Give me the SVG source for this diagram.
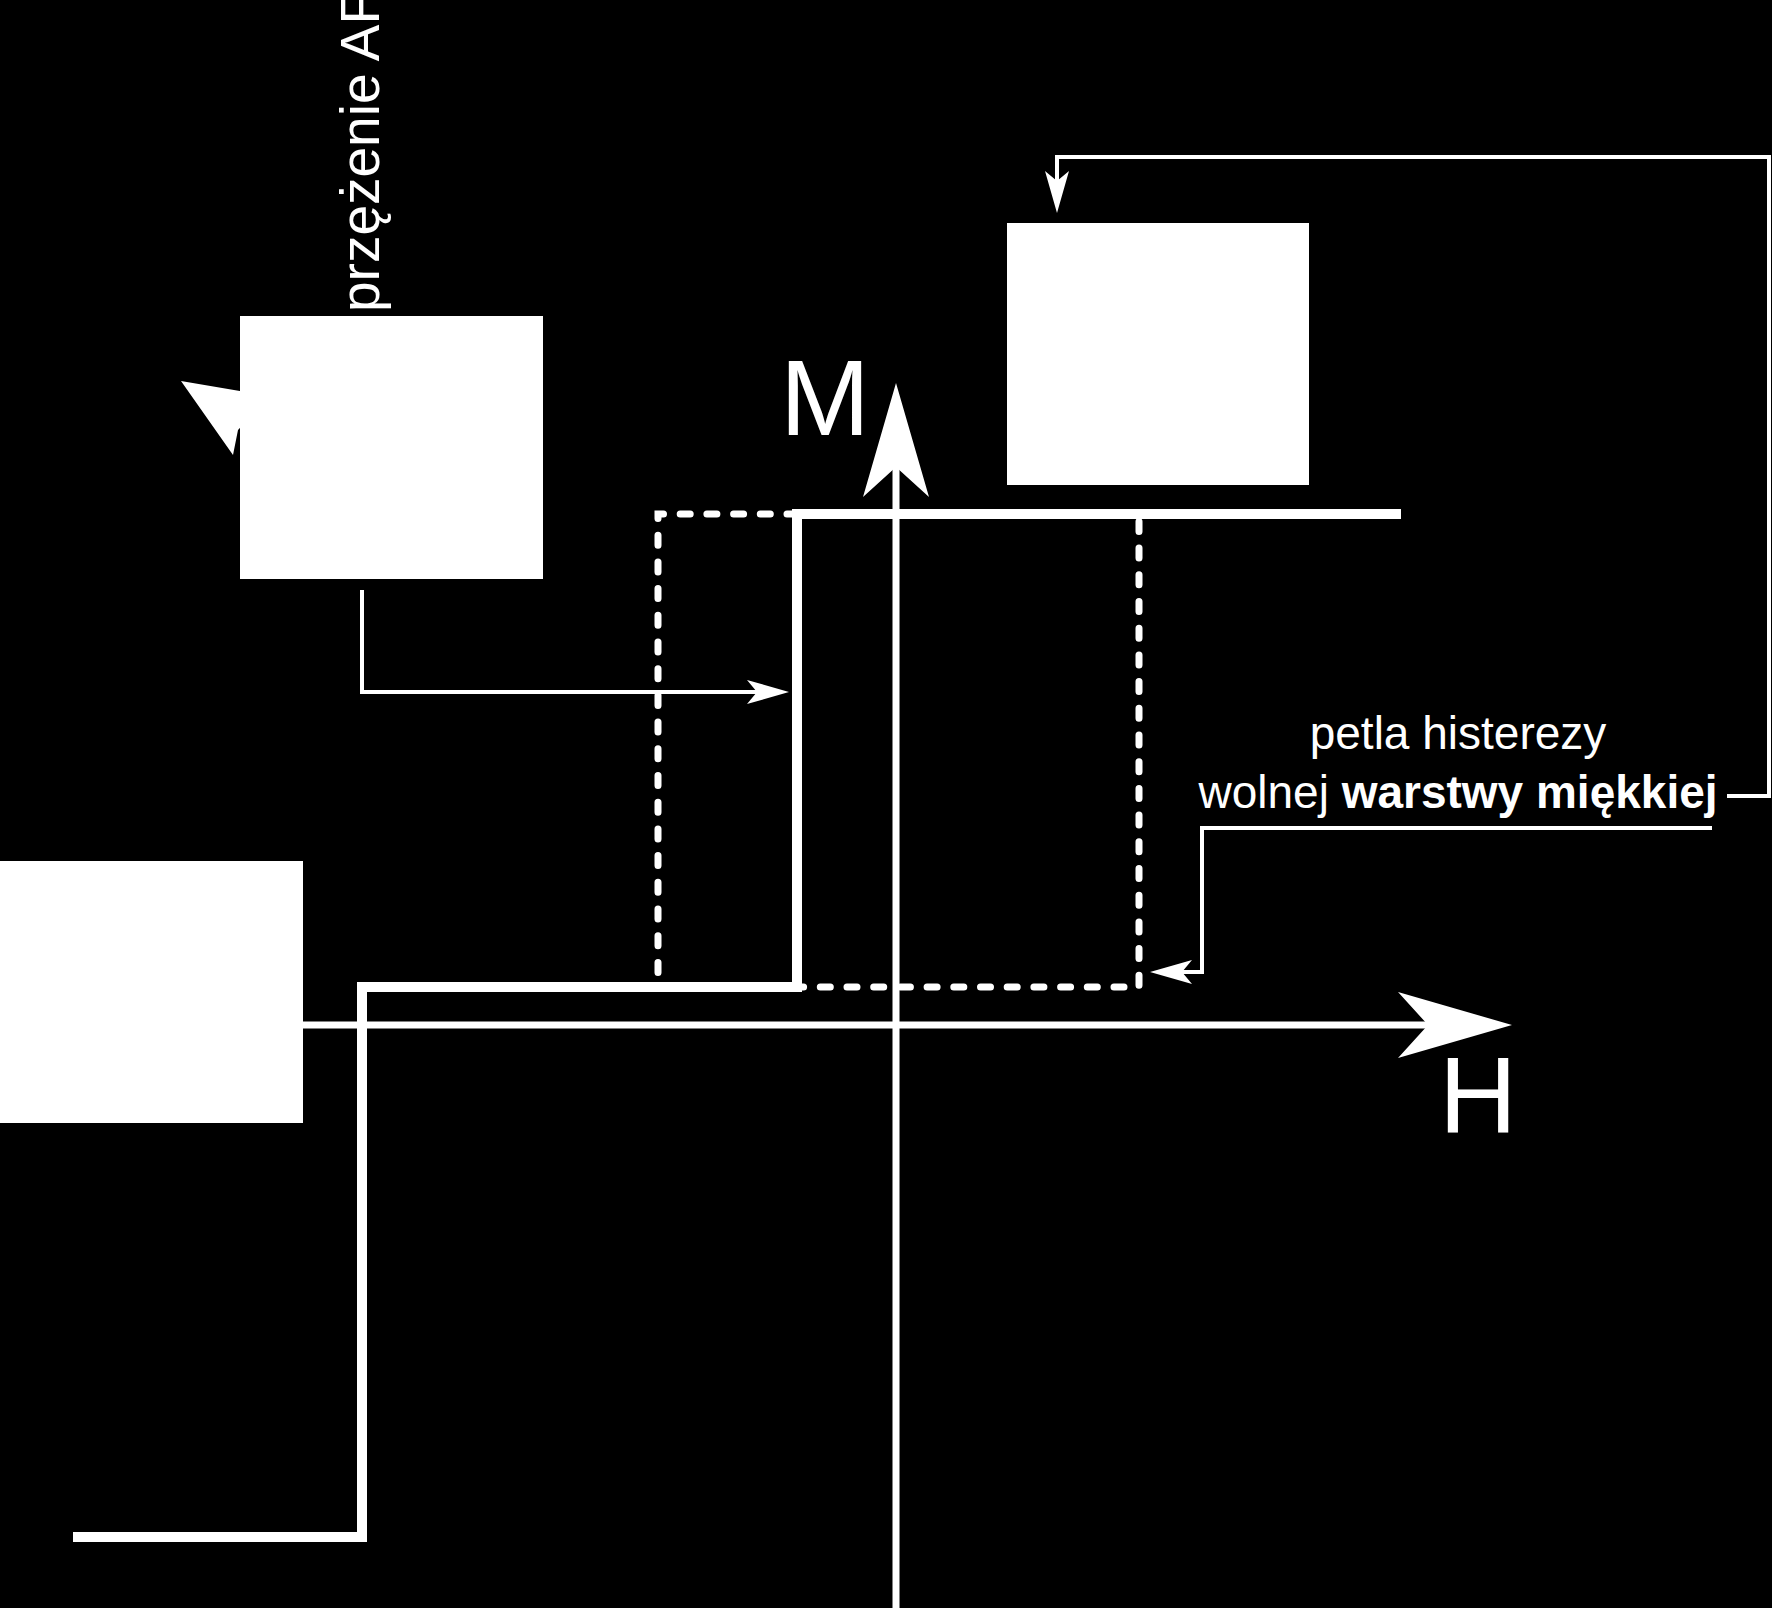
<svg xmlns="http://www.w3.org/2000/svg" width="1772" height="1608" viewBox="0 0 1772 1608">
<style>
.t{font-family:"Liberation Sans",Arial,sans-serif;fill:#fff}
.box{fill:#fff}
.thin{fill:none;stroke:#fff;stroke-width:4;stroke-linejoin:miter}
.axis{fill:none;stroke:#fff;stroke-width:7}
.loop{fill:none;stroke:#fff;stroke-width:10;stroke-linejoin:miter}
.dash{fill:none;stroke:#fff;stroke-width:7;stroke-dasharray:10 16.7;stroke-linecap:round}
</style>
<defs>
<marker id="big" markerUnits="userSpaceOnUse" viewBox="-40 -40 130 80" markerWidth="130" markerHeight="80" refX="0" refY="0" orient="auto" overflow="visible">
<path d="M84,0 L-30,-33 L0,0 L-30,33 Z" fill="#fff"/>
</marker>
<marker id="small" markerUnits="userSpaceOnUse" viewBox="-20 -20 60 40" markerWidth="60" markerHeight="40" refX="0" refY="0" orient="auto" overflow="visible">
<path d="M32,0 L-10,-12 L0,0 L-10,12 Z" fill="#fff"/>
</marker>
</defs>
<rect width="1772" height="1608" fill="#000"/>
<text class="t" font-size="55" transform="translate(379,312) rotate(-90)">przężenie AF</text>
<polygon points="181,381 270,396 238,430 233,455" fill="#fff"/>
<g id="node-top-left"><rect class="box" x="240" y="316" width="303" height="263"/></g>
<g id="node-top-right"><rect class="box" x="1007" y="223" width="302" height="262"/></g>
<g id="node-bottom-left"><rect class="box" x="0" y="861" width="303" height="262"/></g>
<g id="loop">
<path class="dash" d="M797,514 H658 V987 H1139 V520"/>
<path class="loop" d="M73,1537 H362 V987 H797 V514 H1401"/>
</g>
<g id="axes">
<path class="axis" d="M896,1608 V467" marker-end="url(#big)"/>
<path class="axis" d="M303,1025 H1428" marker-end="url(#big)"/>
<text class="t" font-size="108" x="780" y="435">M</text>
<text class="t" font-size="108" x="1439" y="1132">H</text>
</g>
<g id="connectors">
<path class="thin" d="M362,590 V692 H757" marker-end="url(#small)"/>
<path class="thin" d="M1727,796 H1769 V157 H1057 V181" marker-end="url(#small)"/>
<path class="thin" d="M1712,828 H1202 V972 H1182" marker-end="url(#small)"/>
</g>
<g id="label">
<text class="t" font-size="46" x="1458" y="749" text-anchor="middle">petla histerezy</text>
<text class="t" font-size="46" x="1458" y="808" text-anchor="middle">wolnej <tspan font-weight="bold">warstwy miękkiej</tspan></text>
</g>
</svg>
